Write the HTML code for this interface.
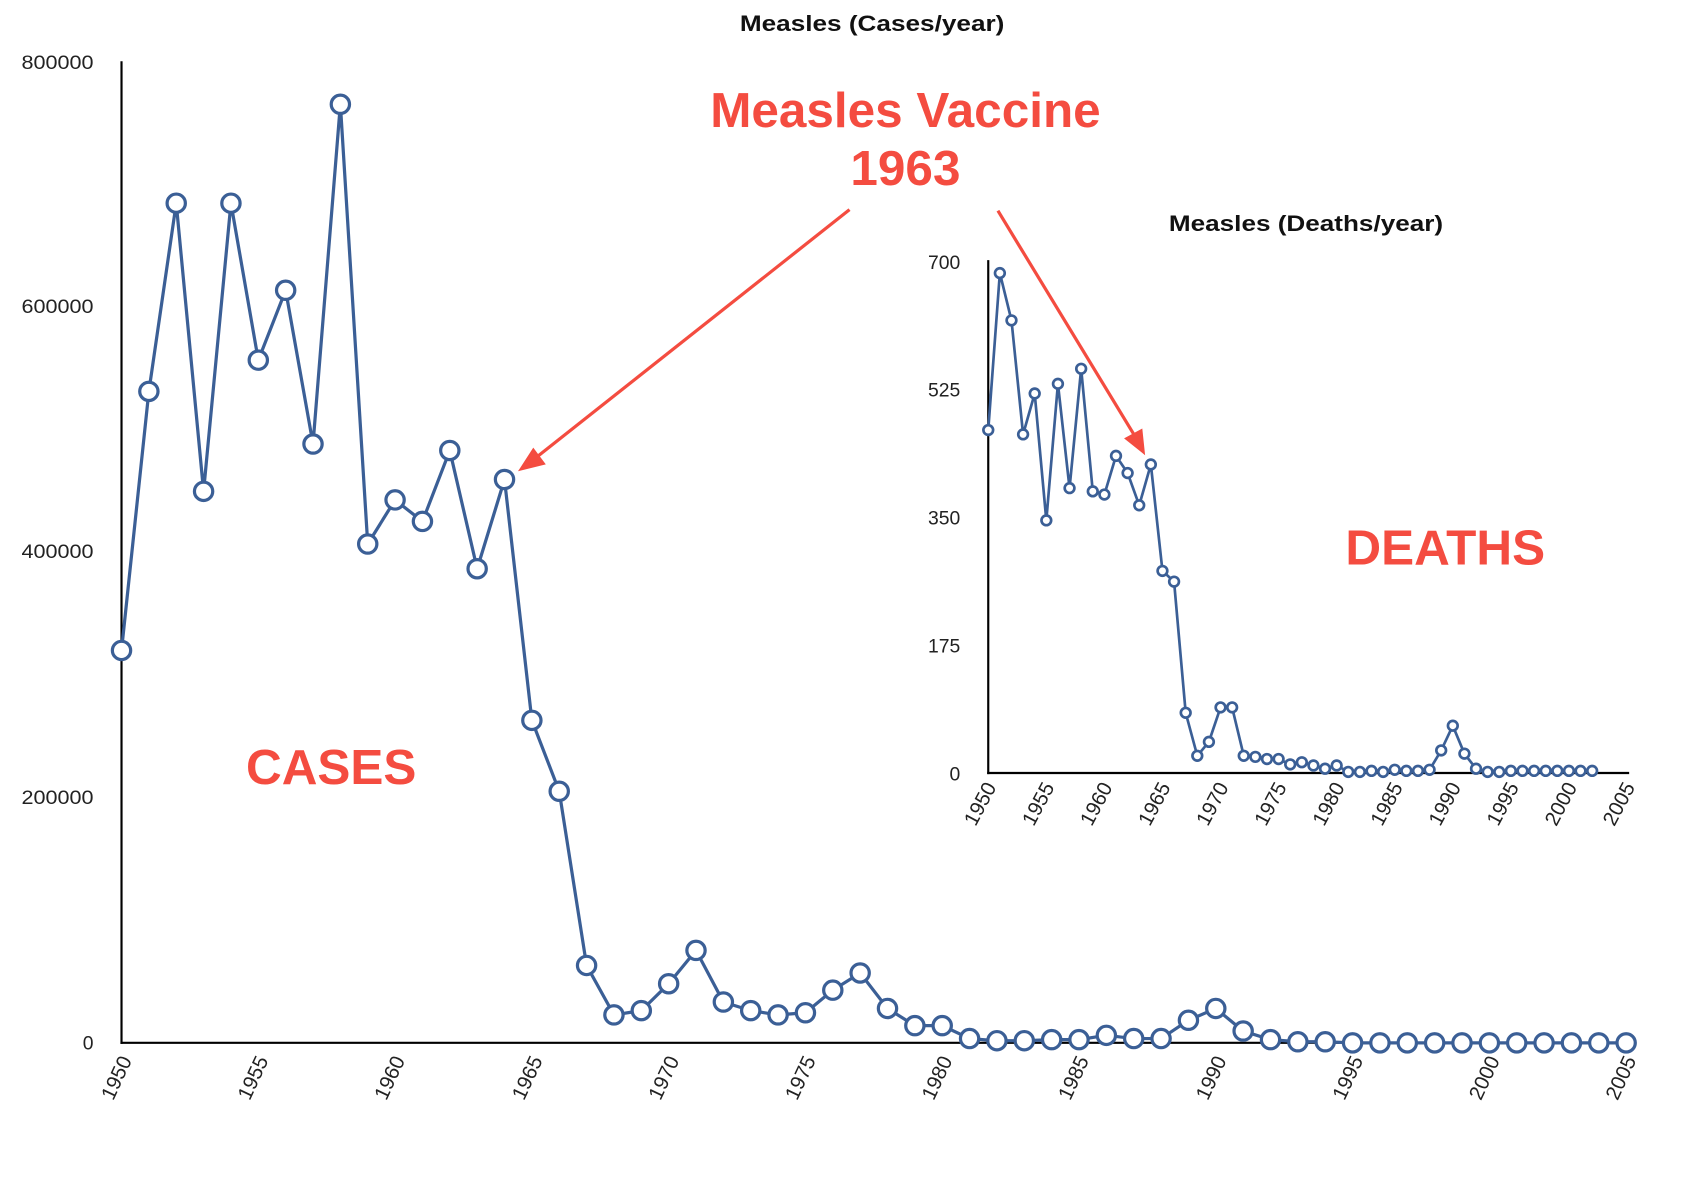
<!DOCTYPE html>
<html><head><meta charset="utf-8"><style>
html,body{margin:0;padding:0;background:#fff;}
svg{display:block;}
text{font-family:"Liberation Sans",sans-serif;}
.t{font-size:18px;fill:#222;}
.x{font-size:19px;fill:#222;}
.r{fill:#f44c40;font-weight:bold;}
</style></head><body>
<svg id="s" width="1684" height="1188" viewBox="0 0 1566 1105" preserveAspectRatio="none" xmlns="http://www.w3.org/2000/svg">
<rect width="1566" height="1105" fill="#fff"/>
<text x="688" y="29" textLength="246" lengthAdjust="spacingAndGlyphs" font-size="21" font-weight="bold" fill="#111">Measles (Cases/year)</text>
<line x1="113" y1="57" x2="113" y2="971" stroke="#000" stroke-width="2"/>
<line x1="112" y1="970" x2="1516" y2="970" stroke="#000" stroke-width="2"/>
<g class="t" text-anchor="end">
<text x="87" y="64" textLength="67" lengthAdjust="spacingAndGlyphs">800000</text>
<text x="87" y="291" textLength="67" lengthAdjust="spacingAndGlyphs">600000</text>
<text x="87" y="519" textLength="67" lengthAdjust="spacingAndGlyphs">400000</text>
<text x="87" y="748" textLength="67" lengthAdjust="spacingAndGlyphs">200000</text>
<text x="87" y="976">0</text>
</g>
<g class="x" text-anchor="end">
<text transform="translate(123,986) rotate(-65)">1950</text>
<text transform="translate(250,986) rotate(-65)">1955</text>
<text transform="translate(377,986) rotate(-65)">1960</text>
<text transform="translate(505,986) rotate(-65)">1965</text>
<text transform="translate(632,986) rotate(-65)">1970</text>
<text transform="translate(759,986) rotate(-65)">1975</text>
<text transform="translate(886,986) rotate(-65)">1980</text>
<text transform="translate(1013,986) rotate(-65)">1985</text>
<text transform="translate(1141,986) rotate(-65)">1990</text>
<text transform="translate(1268,986) rotate(-65)">1995</text>
<text transform="translate(1395,986) rotate(-65)">2000</text>
<text transform="translate(1522,986) rotate(-65)">2005</text>
</g>
<text x="1087" y="215" textLength="255" lengthAdjust="spacingAndGlyphs" font-size="21" font-weight="bold" fill="#111">Measles (Deaths/year)</text>
<line x1="919" y1="242" x2="919" y2="720" stroke="#000" stroke-width="2"/>
<line x1="918" y1="719" x2="1515" y2="719" stroke="#000" stroke-width="2"/>
<g class="t" text-anchor="end">
<text x="893" y="250">700</text>
<text x="893" y="369">525</text>
<text x="893" y="488">350</text>
<text x="893" y="607">175</text>
<text x="893" y="726">0</text>
</g>
<g class="x" text-anchor="end">
<text transform="translate(927,732) rotate(-62)">1950</text>
<text transform="translate(981,732) rotate(-62)">1955</text>
<text transform="translate(1035,732) rotate(-62)">1960</text>
<text transform="translate(1089,732) rotate(-62)">1965</text>
<text transform="translate(1143,732) rotate(-62)">1970</text>
<text transform="translate(1197,732) rotate(-62)">1975</text>
<text transform="translate(1251,732) rotate(-62)">1980</text>
<text transform="translate(1305,732) rotate(-62)">1985</text>
<text transform="translate(1359,732) rotate(-62)">1990</text>
<text transform="translate(1413,732) rotate(-62)">1995</text>
<text transform="translate(1467,732) rotate(-62)">2000</text>
<text transform="translate(1521,732) rotate(-62)">2005</text>
</g>
<g id="data"></g>
<text class="r" x="842" y="118" text-anchor="middle" font-size="46">Measles Vaccine</text>
<text class="r" x="842" y="172" text-anchor="middle" font-size="46">1963</text>
<text class="r" x="308" y="729" text-anchor="middle" font-size="46">CASES</text>
<text class="r" x="1344" y="525" text-anchor="middle" font-size="46">DEATHS</text>
<g stroke="#f44c40" stroke-width="3" fill="#f44c40">
<line x1="790" y1="195" x2="498" y2="426"/>
<polygon points="485,436 496,419 505,431"/>
<line x1="928" y1="196" x2="1055" y2="405"/>
<polygon points="1063,420 1048,408 1061,401"/>
</g>
</svg>
<script>
var c=[605,364,189,457,189,335,270,413,97,506,465,485,419,529,446,670,736,898,944,940,915,884,932,940,944,942,921,905,938,954,954,966,968,968,967,967,963,966,966,949,938,959,967,969,969,970,970,970,970,970,970,970,970,970,970,970];
var d=[400,254,298,404,366,484,357,454,343,457,460,424,440,470,432,531,541,663,703,690,658,658,703,704,706,706,711,709,712,715,712,718,718,717,718,716,717,717,716,698,675,701,715,718,718,717,717,717,717,717,717,717,717];
var g=document.getElementById('data'),ns='http://www.w3.org/2000/svg',col='#3b5f96';
function draw(a,x0,dx,r,sw){var p=a.map(function(y,i){return (x0+i*dx)+','+y}).join(' ');
var pl=document.createElementNS(ns,'polyline');pl.setAttribute('points',p);pl.setAttribute('fill','none');pl.setAttribute('stroke',col);pl.setAttribute('stroke-width',sw);g.appendChild(pl);
a.forEach(function(y,i){var ci=document.createElementNS(ns,'circle');ci.setAttribute('cx',x0+i*dx);ci.setAttribute('cy',y);ci.setAttribute('r',r);ci.setAttribute('fill','#fff');ci.setAttribute('stroke',col);ci.setAttribute('stroke-width',sw);g.appendChild(ci);});}
draw(c,113,25.44,8.5,3);
draw(d,919,10.8,4.5,2.5);
</script>
</body></html>
